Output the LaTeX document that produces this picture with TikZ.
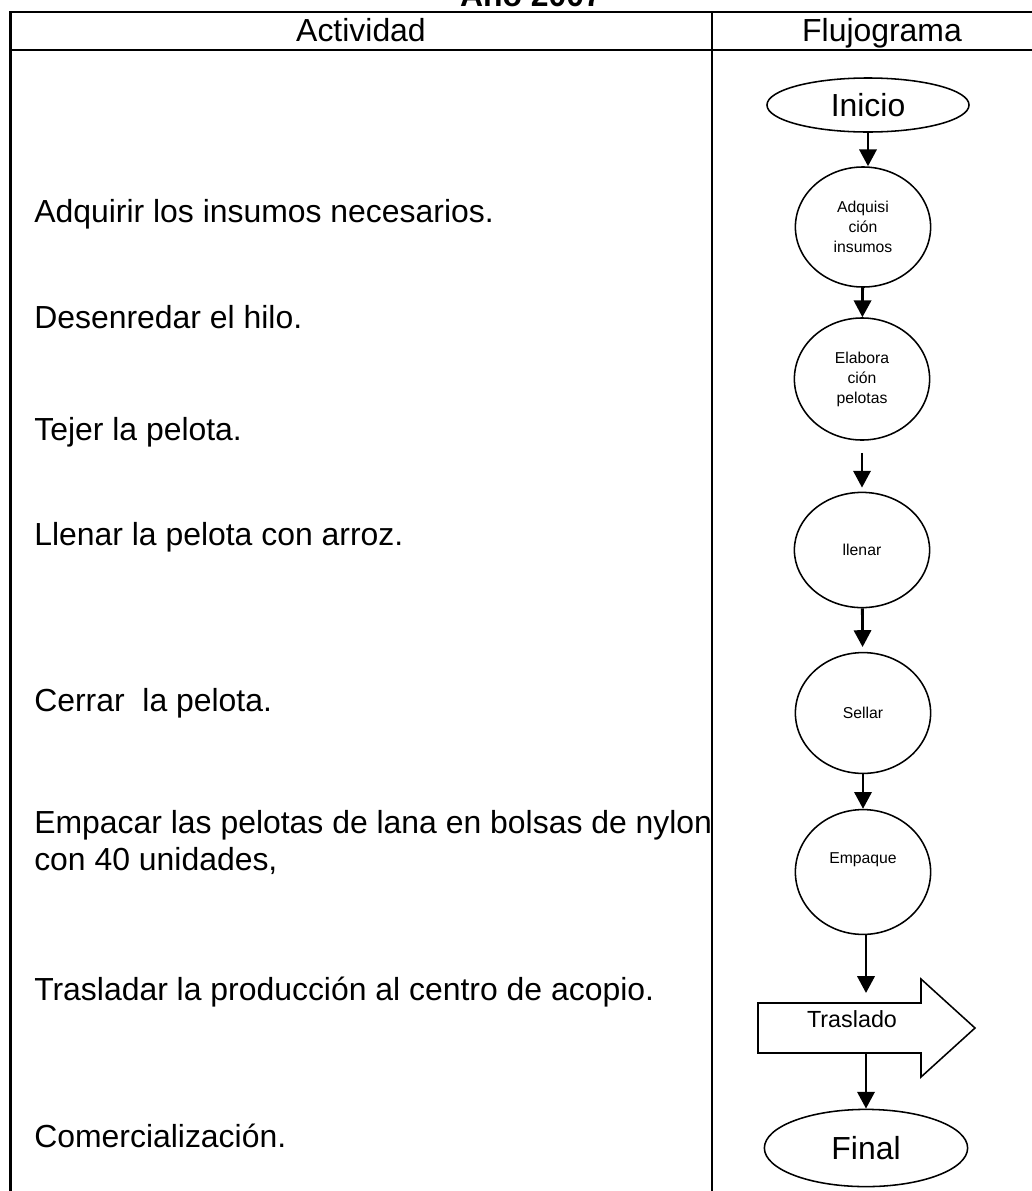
\documentclass[tikz,border=0pt]{standalone}
\usepackage{fontspec}
\setmainfont{Liberation Sans}
\usetikzlibrary{shapes.geometric,arrows.meta}

\begin{document}
\begin{tikzpicture}[x=0.025cm,y=-0.025cm,
        linea/.style={line width=2pt},
        flecha/.style={line width=2pt,-{Triangle[width=0.43cm,length=0.42cm]}},
        grande/.style={font=\fontsize{22.7}{26.3}\selectfont},
        bloque/.style={draw,ellipse,line width=1.1pt,inner sep=0pt,minimum width=3.38cm,
            font=\fontsize{11.2}{14.2}\selectfont,align=center},
        actividad/.style={grande,anchor=base west,align=left,inner sep=0pt}]
        \useasboundingbox (0,0) rectangle (1032,1191);
        %% Title and table
        \node[grande,font=\fontsize{22.7}{26.3}\selectfont\bfseries,anchor=base] (titulo) at (531,6) {Año 2007};
        \draw[linea] (10.5,1200) -- (10.5,12) -- (1060,12);
        \draw[linea] (10.5,50) -- (1060,50);
        \draw[linea] (712,12) -- (712,1200);
        \node[grande,anchor=base] (colA) at (361,41) {Actividad};
        \node[grande,anchor=base] (colB) at (882,41) {Flujograma};
        %% Activities
        \node[actividad] (a1) at (34,222) {Adquirir los insumos necesarios.};
        \node[actividad] (a2) at (34,328) {Desenredar el hilo.};
        \node[actividad] (a3) at (34,440) {Tejer la pelota.};
        \node[actividad] (a4) at (34,545) {Llenar la pelota con arroz.};
        \node[actividad] (a5) at (34,711) {Cerrar\ \ la pelota.};
        \node[actividad] (a6) at (34,870) {Empacar las pelotas de lana en bolsas de nylon\\con 40 unidades,};
        \node[actividad] (a7) at (34,1000) {Trasladar la producción al centro de acopio.};
        \node[actividad] (a8) at (34,1147) {Comercialización.};
        %% Flowchart
        \node[bloque,grande,minimum width=5.05cm,minimum height=1.35cm] (inicio) at (868,105) {Inicio};
        \node[bloque,minimum height=3cm] (adq) at (863,227) {Adquisi\\ción\\insumos};
        \node[bloque,minimum height=3.05cm] (elab) at (862,379) {Elabora\\ción\\pelotas};
        \node[bloque,minimum height=2.88cm] (llenar) at (862,550) {llenar};
        \node[bloque,minimum height=3.02cm] (sellar) at (863,713) {Sellar};
        \node[bloque,minimum height=3.12cm] (empaque) at (863,872) {\raisebox{8.5pt}[\height][\depth]{Empaque}};
        %% Traslado arrow
        \draw[line width=1.1pt] (758,1003) -- (921,1003) -- (921,979) -- (975,1028) -- (921,1077) -- (921,1053) -- (758,1053) -- cycle;
        \node[font=\fontsize{16.6}{20}\selectfont] (traslado) at (852,1019) {Traslado};
        \coordinate (tarriba) at (866,1003);
        \coordinate (tabajo) at (866,1053);
        \node[bloque,grande,minimum width=5.08cm,minimum height=1.93cm] (final) at (866,1148) {Final};
        %% Arrows
        \draw[flecha] (inicio.south) -- (inicio.south |- adq.north);
        \draw[flecha] (adq) -- (elab);
        \draw[flecha,shorten <=0.3cm,shorten >=0.1cm] (elab) -- (llenar);
        \draw[flecha,shorten >=0.12cm] (llenar) -- (sellar);
        \draw[flecha] (sellar) -- (empaque);
        \draw[flecha,shorten >=0.25cm] (tarriba |- empaque.south) -- (tarriba);
        \draw[flecha] (tabajo) -- (final);
    \end{tikzpicture}
\end{document}
